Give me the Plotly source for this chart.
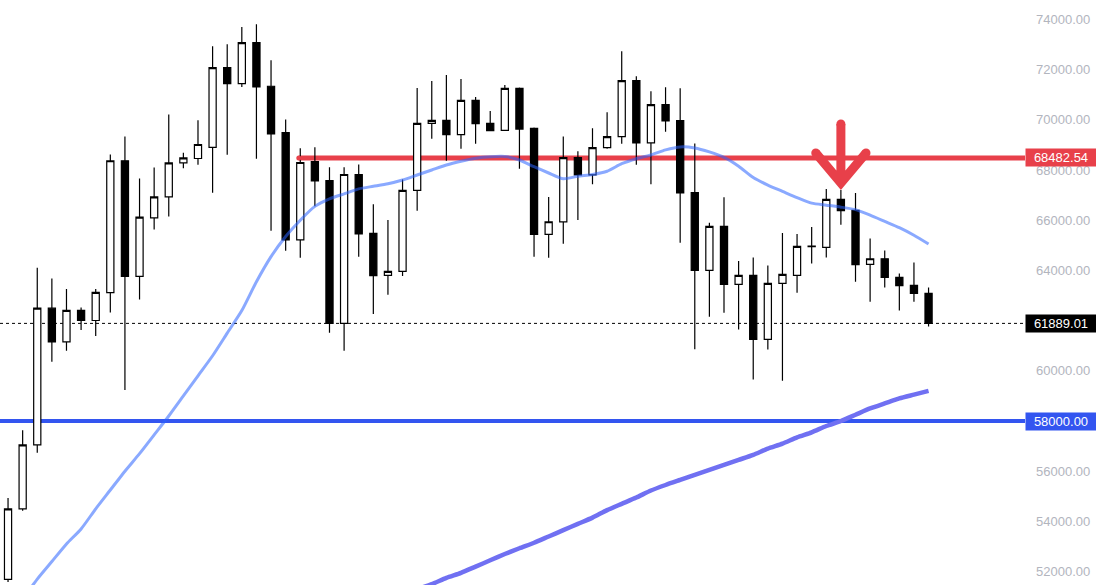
import plotly.graph_objects as go

# ---- data ----
opens = [51694, 54502, 57051, 62494, 61155, 62407, 62004, 63113, 68369, 63761,
         66094, 66929, 68283, 68458, 68902, 72080, 71443, 73076, 71337, 69493,
         65220, 68338, 67582, 61889, 67821, 65472, 63801, 63961, 67188, 69857,
         69977, 69406, 70773, 69857, 69578, 71251, 69658, 65435, 65936, 68497,
         67807, 68895, 69333, 71563, 69081, 70607, 69970, 67104, 63999, 65751,
         63441, 63801, 61252, 63483, 63801, 64950, 64917, 66829, 66391, 64240,
         64465, 63722, 63403, 63084]
highs = [54934, 57627, 64107, 63675, 63257, 62523, 63257, 68614, 69334, 67663,
         68095, 70212, 68686, 69984, 72930, 73009, 73699, 73805, 72372, 70010,
         68869, 68909, 68112, 68112, 68219, 66640, 66006, 67626, 71265, 71544,
         71783, 71623, 70906, 70348, 71384, 71291, 69698, 66922, 69333, 68750,
         69665, 70302, 72731, 71735, 71138, 71297, 71258, 69055, 65897, 66918,
         64370, 64518, 64200, 65488, 65448, 65727, 67241, 67201, 67081, 65275,
         64797, 63881, 64319, 63323]
lows = [51586, 54420, 56734, 60363, 60795, 61630, 61385, 62321, 59239, 62839,
        65633, 66151, 68066, 68206, 67091, 68604, 71311, 68444, 65578, 64782,
        64503, 66560, 61517, 60801, 64543, 62261, 63031, 63775, 66377, 69246,
        68370, 68848, 69047, 69565, 69578, 68051, 64545, 64505, 65061, 66003,
        67436, 68842, 69041, 68206, 67436, 69519, 65100, 60854, 62154, 62314,
        61650, 59658, 60853, 59605, 63111, 64279, 64518, 65820, 63549, 62752,
        63323, 62407, 62752, 61769]
closes = [54502, 57051, 62494, 61155, 62407, 62004, 63127, 68369, 63761, 66123,
          66929, 68283, 68484, 69015, 72080, 71443, 73076, 71311, 69440, 65220,
          68298, 67569, 61889, 67821, 65459, 63787, 63961, 67188, 69857, 69977,
          69406, 70773, 69844, 69565, 71251, 69631, 65435, 65939, 68497, 67807,
          68895, 69333, 71563, 69081, 70607, 69957, 67091, 63999, 65751, 63441,
          63800, 61252, 63483, 63841, 64957, 64965, 66829, 66378, 64226, 64465,
          63722, 63390, 63084, 61889.01]
candle_idx = list(range(len(opens)))

# fast moving average, starting at candle 1
ma_fast_start = 1
ma_fast = [50900, 51700, 52400, 53100, 53700, 54500, 55250, 56000, 56700, 57450,
           58200, 59000, 59800, 60600, 61500, 62400, 63550, 64550, 65350, 66000,
           66550, 66850, 67050, 67250, 67350, 67450, 67600, 67800, 68000, 68200,
           68350, 68470, 68530, 68540, 68400, 68130, 67880, 67650, 67750, 67820,
           67950, 68250, 68450, 68600, 68800, 68920, 68880, 68720, 68500, 68150,
           67700, 67400, 67150, 66900, 66680, 66600, 66520, 66420, 66200, 65950,
           65700, 65400, 65050]
# slow moving average, starting at candle 28
ma_slow_start = 28
ma_slow = [51300, 51500, 51750, 51950, 52200, 52450, 52700, 52930, 53150, 53400,
           53650, 53900, 54150, 54450, 54700, 54950, 55230, 55450, 55650, 55850,
           56050, 56250, 56450, 56650, 56900, 57100, 57350, 57550, 57800, 58000,
           58250, 58500, 58700, 58900, 59050, 59200]

resistance = 68482.54
resistance_start = 19.9
support = 58000.00
last_price = 61889.01

arrow_idx = 57
arrow_tip = 67482
arrow_tail = 69832
arrow_arm_dx = 1.72
arrow_arm_y = 68677

# visible price-scale labels (62000 and 58000 are hidden behind the price boxes)
y_ticks = [52000, 54000, 56000, 60000, 64000, 66000, 68000, 70000, 72000, 74000]
y_range = [51466, 74773]
x_range = [-0.55, 69.6]

RED = "#e8404a"
BLUE = "#3355f0"

fig = go.Figure()

fig.add_trace(go.Scatter(
    x=list(range(ma_fast_start, ma_fast_start + len(ma_fast))), y=ma_fast,
    mode="lines", line=dict(color="rgba(41,98,255,0.55)", width=3, shape="spline", smoothing=0.6),
    hoverinfo="skip", showlegend=False))
fig.add_trace(go.Scatter(
    x=list(range(ma_slow_start, ma_slow_start + len(ma_slow))), y=ma_slow,
    mode="lines", line=dict(color="#7070f2", width=4.5, shape="spline", smoothing=0.6),
    hoverinfo="skip", showlegend=False))

fig.add_trace(go.Candlestick(
    x=candle_idx, open=opens, high=highs, low=lows, close=closes,
    increasing=dict(line=dict(color="black", width=1.2), fillcolor="white"),
    decreasing=dict(line=dict(color="black", width=1.2), fillcolor="black"),
    whiskerwidth=0, showlegend=False))

# arrow round caps
fig.add_trace(go.Scatter(
    x=[arrow_idx, arrow_idx - arrow_arm_dx, arrow_idx + arrow_arm_dx],
    y=[arrow_tail, arrow_arm_y, arrow_arm_y],
    mode="markers", marker=dict(color=RED, size=9, line=dict(width=0)),
    hoverinfo="skip", showlegend=False))

shapes = [
    dict(type="line", xref="x", yref="y", x0=resistance_start, x1=x_range[1] + 5,
         y0=resistance, y1=resistance, line=dict(color=RED, width=5), layer="below"),
    dict(type="line", xref="paper", yref="y", x0=0, x1=1,
         y0=support, y1=support, line=dict(color=BLUE, width=4), layer="below"),
    dict(type="line", xref="paper", yref="y", x0=0, x1=1,
         y0=last_price, y1=last_price, line=dict(color="black", width=1, dash="dot"), layer="below"),
    dict(type="path", xref="x", yref="y",
         path=(f"M {arrow_idx},{arrow_tail} L {arrow_idx},{arrow_tip} "
               f"M {arrow_idx - arrow_arm_dx},{arrow_arm_y} L {arrow_idx},{arrow_tip} "
               f"L {arrow_idx + arrow_arm_dx},{arrow_arm_y}"),
         line=dict(color=RED, width=9), layer="above"),
]
# round cap at resistance start
fig.add_trace(go.Scatter(x=[resistance_start], y=[resistance], mode="markers",
                         marker=dict(color=RED, size=5), hoverinfo="skip", showlegend=False))

annotations = []
for val, bg in [(resistance, RED), (last_price, "black"), (support, BLUE)]:
    annotations.append(dict(
        xref="paper", yref="y", x=1, y=val, xanchor="left", yanchor="middle",
        text=f"{val:.2f}", showarrow=False, bgcolor=bg, borderpad=1, width=68,
        align="center", font=dict(color="white", size=13, family="Liberation Sans")))

fig.update_layout(
    width=1096, height=585,
    margin=dict(l=0, r=71, t=0, b=0, autoexpand=False),
    paper_bgcolor="white", plot_bgcolor="white",
    shapes=shapes, annotations=annotations,
    xaxis=dict(range=x_range, visible=False, rangeslider=dict(visible=False),
               fixedrange=True, automargin=False),
    yaxis=dict(range=y_range, side="right", tickvals=y_ticks, automargin=False,
               ticktext=[f"{v:.2f}" for v in y_ticks], showgrid=False, zeroline=False,
               ticks="", ticklabelstandoff=10,
               tickfont=dict(color="#b2b5be", size=13, family="Liberation Sans")),
    showlegend=False,
)

fig.write_html("out.html", config={"displayModeBar": False},
               post_script="document.body.style.margin='0';")
